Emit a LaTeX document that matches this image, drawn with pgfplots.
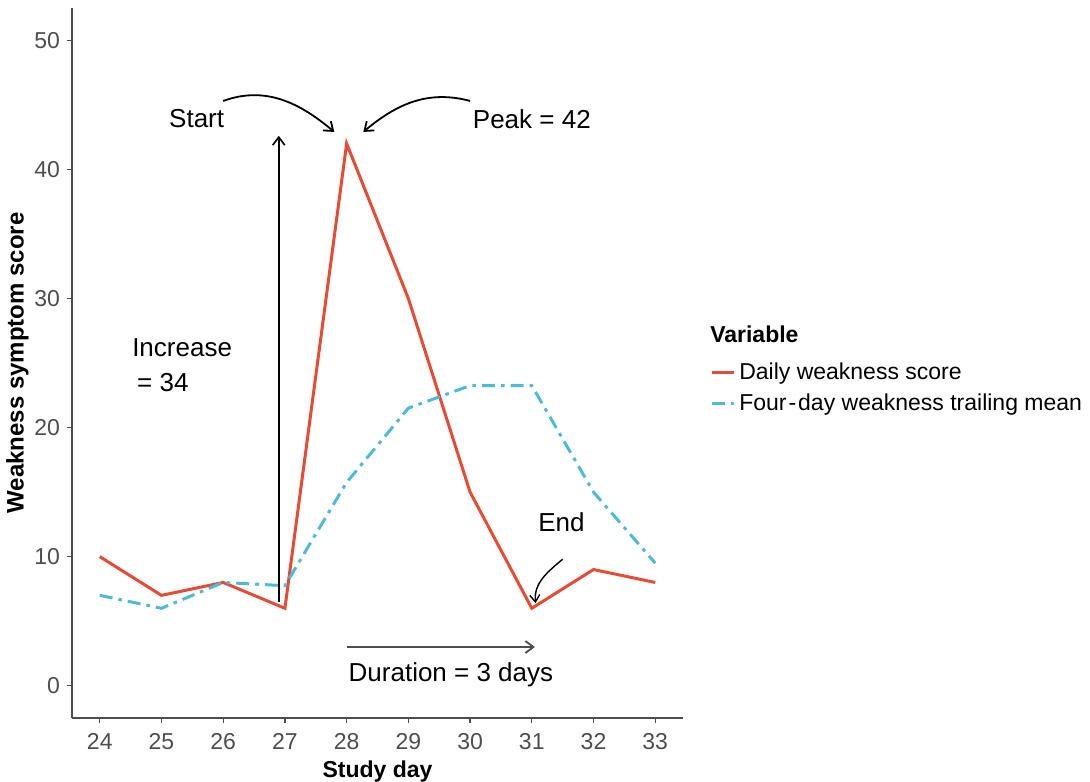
\documentclass[border=0pt]{standalone}
\usepackage{pgfplots}
\pgfplotsset{compat=1.18}
\usepackage{fontspec}
\setmainfont{Liberation Sans}
\usetikzlibrary{arrows.meta}
\definecolor{npgred}{HTML}{E64B35}
\definecolor{npgblue}{HTML}{4DBBD5}
\definecolor{axgrey}{HTML}{4D4D4D}
\begin{document}
\begin{tikzpicture}
  \begin{axis}[
    at={(0,0)}, anchor=south west,
    scale only axis, width=305.5pt, height=355pt,
    xmin=23.55, xmax=33.45, ymin=-2.5, ymax=52.5,
    xtick={24,...,33}, ytick={0,10,...,50},
    axis lines=left, axis line style={-, draw=axgrey, line width=0.6pt},
    tick style={draw=axgrey, line width=0.6pt},
    tick align=outside, major tick length=2.5pt,
    ticklabel style={font=\fontsize{11.5}{13}\selectfont, text=axgrey},
    xticklabel style={yshift=-1.5pt},
    /pgf/number format/assume math mode=true,
    xlabel={\textbf{Study day}}, ylabel={\textbf{Weakness symptom score}},
    xlabel style={font=\fontsize{11.5}{13}\selectfont, yshift=1pt},
    ylabel style={font=\fontsize{12}{14}\selectfont, yshift=-4pt},
    legend style={at={(rel axis cs:1.044,0.507)}, anchor=north west,
      draw=none, fill=none, font=\fontsize{11.5}{13}\selectfont,
      inner sep=0pt, row sep=2pt},
    legend cell align=left,
    legend image code/.code={\draw[#1] (0pt,0pt) -- (11pt,0pt);},
    clip=false,
  ]
  \addplot[color=npgred, line width=1.5pt] coordinates {
    (24,10) (25,7) (26,8) (27,6) (28,42) (29,30) (30,15) (31,6) (32,9) (33,8)
  };
  \addlegendentry{Daily weakness score}
  \addplot[color=npgblue, line width=1.5pt,
    dash pattern=on 6.5pt off 3pt on 1.8pt off 3pt] coordinates {
    (24,7) (25,6) (26,8) (27,7.75) (28,15.75) (29,21.5) (30,23.25) (31,23.25) (32,15) (33,9.5)
  };
  \addlegendentry{Four\kern1pt-\kern1pt day weakness trailing mean}

  % legend title
  \node[anchor=west, font=\fontsize{11.5}{13}\selectfont\bfseries, inner sep=0pt]
    at (rel axis cs:1.044,0.541) {Variable};

  % annotations
  \draw[-{Straight Barb[length=4pt,width=6pt]}, line width=0.8pt]
    (axis cs:26.9,6.5) -- (axis cs:26.9,42.6);
  \draw[-{Straight Barb[length=4pt,width=6pt]}, line width=0.9pt]
    (axis cs:26.0,45.3) to[out=20,in=140] (axis cs:27.8,42.9);
  \draw[-{Straight Barb[length=4pt,width=6pt]}, line width=0.9pt]
    (axis cs:30.0,45.3) to[out=165,in=40] (axis cs:28.27,42.9);
  \draw[-{Straight Barb[length=3.5pt,width=5pt]}, line width=0.7pt]
    (axis cs:31.5,9.8) to[out=220,in=95] (axis cs:31.06,6.4);
  \draw[-{Straight Barb[length=4pt,width=6pt]}, line width=0.9pt, draw=axgrey]
    (axis cs:28.0,3) -- (axis cs:31.05,3);

  \node[font=\fontsize{13}{15}\selectfont] at (axis cs:25.57,43.9) {Start};
  \node[anchor=west, font=\fontsize{13}{15}\selectfont, inner sep=0pt] at (axis cs:30.04,43.9) {Peak = 42};
  \node[anchor=west, font=\fontsize{13}{15}\selectfont, inner sep=0pt] at (axis cs:24.52,26.2) {Increase};
  \node[anchor=west, font=\fontsize{13}{15}\selectfont, inner sep=0pt] at (axis cs:24.6,23.5) {= 34};
  \node[font=\fontsize{13}{15}\selectfont] at (axis cs:31.48,12.7) {End};
  \node[font=\fontsize{13}{15}\selectfont] at (axis cs:29.69,0.85) {Duration = 3 days};
  \end{axis}
  \pgfresetboundingbox
  \path (-36pt,-31.5pt) rectangle (509pt,359pt);
\end{tikzpicture}
\end{document}
